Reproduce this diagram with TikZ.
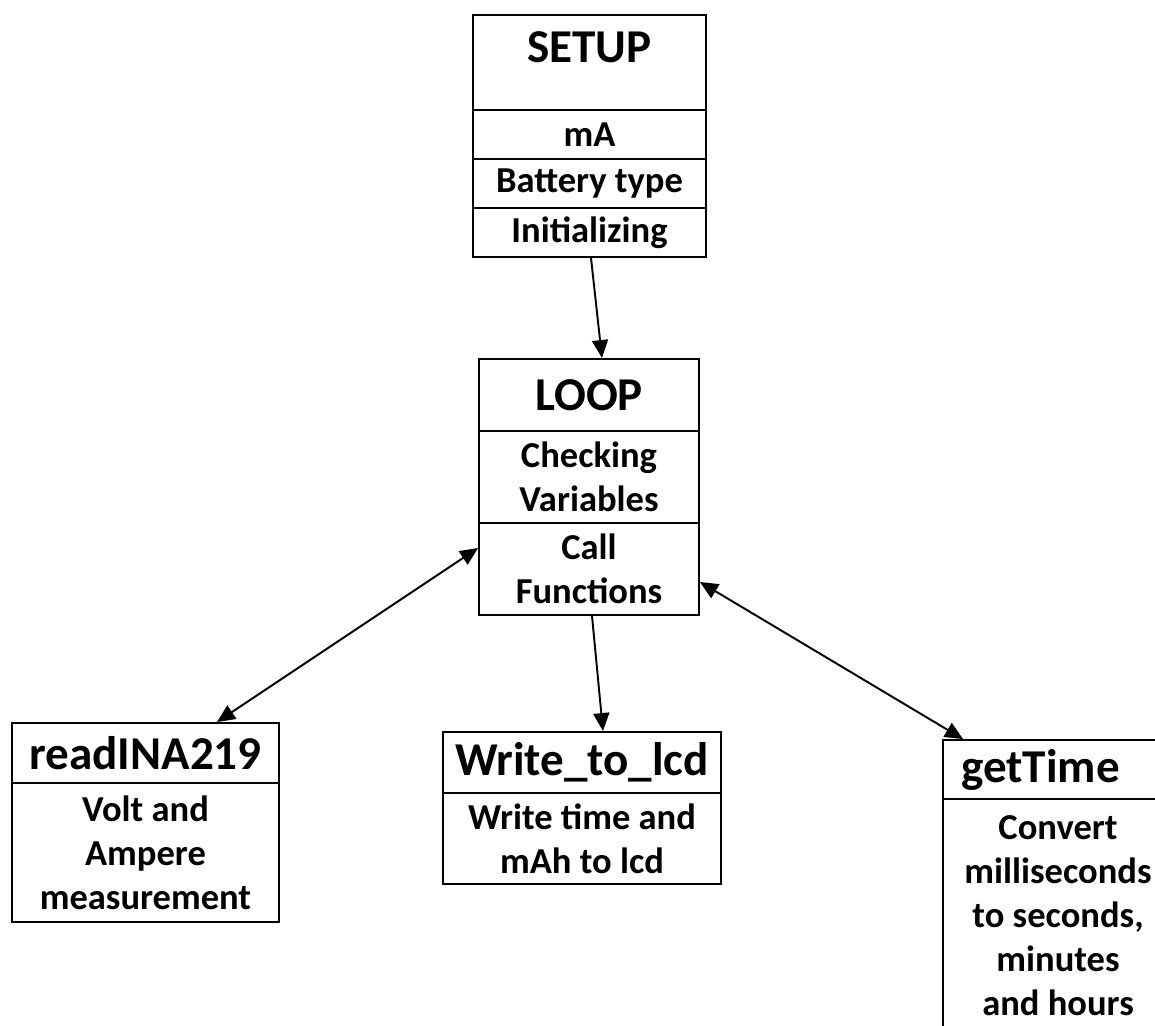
\documentclass[tikz,border=0pt]{standalone}
\usepackage{fontspec}
\setmainfont{Carlito}
\usetikzlibrary{arrows.meta,shapes}
\tikzstyle{cell}=[draw,line width=1.1pt,rectangle,inner sep=0pt,align=center]
\tikzstyle{head}=[cell,font=\fontsize{26.8}{30}\selectfont\bfseries]
\tikzstyle{body}=[cell,font=\fontsize{20.8}{25}\selectfont\bfseries]
\tikzstyle{link}=[draw,line width=1.1pt,-{Triangle[length=0.36cm,width=0.32cm]}]
\tikzstyle{twolink}=[link,{Triangle[length=0.36cm,width=0.32cm]}-{Triangle[length=0.36cm,width=0.32cm]}]

\begin{document}
\begin{tikzpicture}[x=0.02cm,y=-0.02cm]
    \useasboundingbox (0,0) rectangle (1155,1025);
    \clip (0,0) rectangle (1155,1025);
    % SETUP block
    \node[head,minimum width=4.66cm,text height=0.94cm,text depth=0.96cm] (setup) at (589.5,62.5) {SETUP};
    \foreach \pos/\name/\txt in {{(589.5,134.5)/setupMA/mA}, {(589.5,183.5)/setupBat/Battery type}, {(589.5,232.5)/setupInit/Initializing}}
        \node[body,minimum width=4.66cm,minimum height=0.98cm] (\name) at \pos {\txt};
    % LOOP block
    \node[head,minimum width=4.4cm,minimum height=1.44cm] (loop) at (589,395) {LOOP};
    \node[body,minimum width=4.4cm,minimum height=1.84cm] (loopCheck) at (589,477) {Checking\\Variables};
    \node[body,minimum width=4.4cm,minimum height=1.84cm] (loopCall) at (589,569) {Call\\Functions};
    % the three functions
    \node[head,minimum width=5.34cm,minimum height=1.2cm] (read) at (145.5,753) {readINA219};
    \node[body,minimum width=5.34cm,minimum height=2.78cm] (readBody) at (145.5,852.5) {Volt and\\Ampere\\measurement};
    \node[head,minimum width=5.56cm,minimum height=1.22cm] (write) at (582,762.5) {Write\_to\_lcd};
    \node[body,minimum width=5.56cm,minimum height=1.82cm] (writeBody) at (582,838.5) {Write time and\\mAh to lcd};
    % getTime runs off the page on the right
    \node[head,minimum width=6.2cm,minimum height=1.18cm] (time) at (1098,769.5) {\hspace*{-2.3cm}getTime};
    \node[body,minimum width=6.2cm,minimum height=4.78cm] (timeBody) at (1098,918.5)
        {\hspace*{-1.6cm}\begin{tabular}{@{}c@{}}Convert\\milliseconds\\to seconds,\\minutes\\and hours\end{tabular}};
    % connectors
    \path[link] ([xshift=0.03cm]setupInit.south) -- ([xshift=0.26cm]loop.north);
    \path[link] ([xshift=0.06cm]loopCall.south) -- ([xshift=0.42cm]write.north);
    \path[twolink] ([xshift=1.43cm]read.north) -- ([yshift=0.42cm]loopCall.west);
    \path[twolink] ([yshift=-0.26cm]loopCall.east) -- ([xshift=-2.7cm]time.north);
\end{tikzpicture}
\end{document}
